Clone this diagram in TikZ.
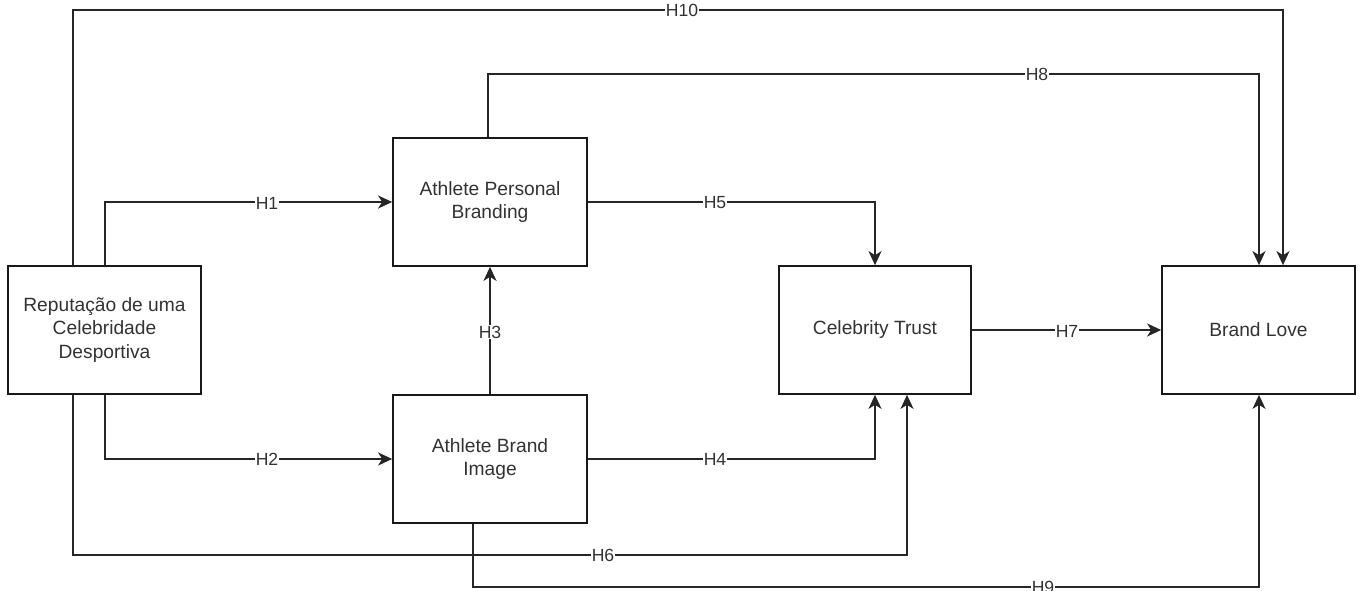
\documentclass[tikz,border=0pt]{standalone}
\usepackage{fontspec}
\setmainfont{Liberation Sans}
\usetikzlibrary{arrows.meta,calc}
\begin{document}
\begin{tikzpicture}[x=1pt,y=-1pt,
  box/.style={draw=black!90,line width=1.7pt,fill=white,minimum width=193pt,minimum height=128pt,
    align=center,text=black!80,font=\fontsize{19.2}{23.5}\selectfont,inner sep=0pt},
  conn/.style={draw=black!85,line width=1.7pt},
  arr/.style={conn,-{Stealth[length=14pt,width=13pt,inset=4pt]}},
  lab/.style={fill=white,inner sep=1pt,text=black!80,font=\fontsize{17.6}{20}\selectfont}]
\useasboundingbox (0,0) rectangle (1362,591);
\clip (0,0) rectangle (1362,591);
% boxes
\node[box] (rep) at (104.5,330) {Reputação de uma\\Celebridade\\Desportiva};
\node[box,minimum width=194pt] (apb) at (490,202) {Athlete Personal\\Branding};
\node[box,minimum width=194pt] (abi) at (490,459) {Athlete Brand\\Image};
\node[box,minimum width=192pt] (ct) at (875,330) {Celebrity Trust};
\node[box] (bl) at (1258.5,330) {Brand Love};
% connectors
\draw[arr] ([xshift=-31.5pt]rep.north) |- (1283,10) -- ([xshift=24.5pt]bl.north);
\draw[arr] ([xshift=-2pt]apb.north) |- (1259,74) -- ([xshift=0.5pt]bl.north);
\draw[arr] ([xshift=0.5pt]rep.north) |- (apb.west);
\draw[arr] (apb.east) -| (ct.north);
\draw[arr] (abi.north) -- (apb.south);
\draw[arr] ([xshift=0.5pt]rep.south) |- (abi.west);
\draw[arr] (abi.east) -| (ct.south);
\draw[arr] ([xshift=-31.5pt]rep.south) |- (907,555) -- ([xshift=32pt]ct.south);
\draw[arr] (ct.east) -- (bl.west);
\draw[arr] ([xshift=-17pt]abi.south) |- (1259,587) -- ([xshift=0.5pt]bl.south);
% labels
\node[lab] (l10) at (682,10) {H10};
\node[lab] (l8) at (1037,74) {H8};
\node[lab] (l1) at (267,203) {H1};
\node[lab] (l5) at (715,203) {H5};
\node[lab] (l3) at (490,332) {H3};
\node[lab] (l2) at (267,459) {H2};
\node[lab] (l4) at (715,459) {H4};
\node[lab] (l6) at (603,555) {H6};
\node[lab] (l7) at (1067,331) {H7};
\node[lab] (l9) at (1043,587) {H9};
\end{tikzpicture}
\end{document}
